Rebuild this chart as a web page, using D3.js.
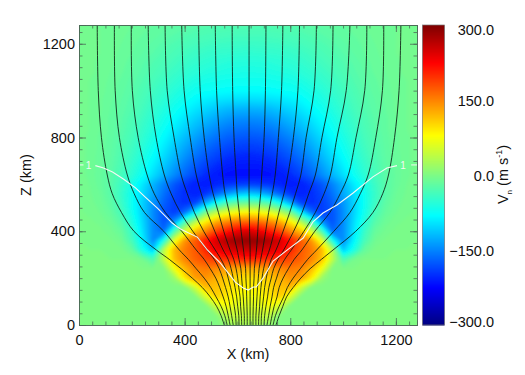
<!DOCTYPE html>
<html>
<head>
<meta charset="utf-8">
<script src="https://cdn.jsdelivr.net/npm/d3@7"></script>
<style>
  html, body { margin: 0; padding: 0; background: #fff; }
  svg { display: block; }
  text { font-family: "Liberation Sans", Arial, sans-serif; fill: #111; }
</style>
</head>
<body>
<svg id="chart" width="525" height="375"></svg>
<script>
// grid nodes, km
const gridX = d3.range(0, 1281, 40);
const gridZ = d3.range(1280, -1, -40);

// V_n in m/s, one row per gridZ, one value per gridX
const vnRows = [
  [-6,-7,-8,-9,-10,-12,-14,-16,-18,-20,-22,-24,-26,-27,-28,-28,-28,-28,-28,-27,-26,-24,-22,-20,-18,-16,-14,-12,-10,-9,-8,-7,-6],
  [-6,-7,-8,-9,-11,-13,-16,-18,-21,-24,-27,-30,-32,-33,-34,-35,-35,-35,-34,-33,-32,-30,-27,-24,-21,-18,-16,-13,-11,-9,-8,-7,-6],
  [-6,-7,-8,-10,-12,-15,-18,-21,-25,-29,-33,-36,-38,-40,-41,-42,-42,-42,-41,-40,-38,-36,-33,-29,-25,-21,-18,-15,-12,-10,-8,-7,-6],
  [-6,-7,-8,-10,-13,-16,-20,-24,-29,-33,-38,-42,-45,-47,-48,-49,-50,-49,-48,-47,-45,-42,-38,-33,-29,-24,-20,-16,-13,-10,-8,-7,-6],
  [-6,-7,-9,-11,-14,-18,-23,-28,-33,-38,-43,-48,-51,-54,-56,-57,-58,-57,-56,-54,-51,-48,-43,-38,-33,-28,-23,-18,-14,-11,-9,-7,-6],
  [-6,-7,-9,-12,-15,-20,-25,-31,-37,-43,-49,-54,-58,-60,-62,-63,-64,-63,-62,-60,-58,-54,-49,-43,-37,-31,-25,-20,-15,-12,-9,-7,-6],
  [-6,-8,-10,-13,-17,-22,-28,-35,-42,-49,-56,-62,-66,-68,-70,-71,-71,-71,-70,-68,-66,-62,-56,-49,-42,-35,-28,-22,-17,-13,-10,-8,-6],
  [-6,-8,-10,-14,-18,-24,-31,-39,-47,-56,-64,-71,-75,-77,-79,-80,-80,-80,-79,-77,-75,-71,-64,-56,-47,-39,-31,-24,-18,-14,-10,-8,-6],
  [-6,-8,-11,-15,-20,-26,-34,-43,-53,-63,-72,-82,-89,-94,-97,-99,-100,-99,-97,-94,-89,-82,-72,-63,-53,-43,-34,-26,-20,-15,-11,-8,-6],
  [-6,-8,-11,-16,-21,-28,-37,-48,-59,-71,-83,-94,-104,-113,-120,-124,-125,-124,-120,-113,-104,-94,-83,-71,-59,-48,-37,-28,-21,-16,-11,-8,-6],
  [-6,-8,-12,-17,-23,-31,-41,-53,-66,-80,-94,-107,-119,-130,-138,-144,-145,-144,-138,-130,-119,-107,-94,-80,-66,-53,-41,-31,-23,-17,-12,-8,-6],
  [-6,-8,-12,-17,-24,-33,-45,-58,-73,-89,-105,-120,-134,-146,-155,-160,-162,-160,-155,-146,-134,-120,-105,-89,-73,-58,-45,-33,-24,-17,-12,-8,-6],
  [-6,-9,-13,-18,-26,-36,-49,-64,-81,-99,-117,-134,-149,-161,-170,-175,-177,-175,-170,-161,-149,-134,-117,-99,-81,-64,-49,-36,-26,-18,-13,-9,-6],
  [-6,-9,-13,-19,-28,-39,-54,-71,-90,-110,-129,-147,-163,-175,-184,-189,-191,-189,-184,-175,-163,-147,-129,-110,-90,-71,-54,-39,-28,-19,-13,-9,-6],
  [-6,-9,-14,-20,-30,-43,-59,-78,-99,-120,-141,-160,-176,-188,-197,-202,-204,-202,-197,-188,-176,-160,-141,-120,-99,-78,-59,-43,-30,-20,-14,-9,-6],
  [-6,-9,-14,-21,-33,-48,-66,-88,-110,-133,-155,-174,-190,-201,-209,-213,-214,-213,-209,-201,-190,-174,-155,-133,-110,-88,-66,-48,-33,-21,-14,-9,-6],
  [-6,-9,-15,-23,-36,-53,-74,-98,-122,-146,-168,-187,-202,-212,-218,-220,-220,-220,-218,-212,-202,-187,-168,-146,-122,-98,-74,-53,-36,-23,-15,-9,-6],
  [-5,-8,-14,-24,-42,-65,-92,-122,-150,-175,-195,-208,-212,-205,-197,-192,-190,-192,-197,-205,-212,-208,-195,-175,-150,-122,-92,-65,-42,-24,-14,-8,-5],
  [-5,-7,-12,-24,-45,-70,-100,-130,-160,-185,-200,-208,-195,-170,-140,-118,-110,-118,-140,-170,-195,-208,-200,-185,-160,-130,-100,-70,-45,-24,-12,-7,-5],
  [-4,-6,-10,-20,-42,-72,-105,-140,-170,-190,-200,-185,-125,-70,-30,-14,-10,-14,-30,-70,-125,-185,-200,-190,-170,-140,-105,-72,-42,-20,-10,-6,-4],
  [-3,-5,-8,-16,-35,-68,-105,-145,-178,-190,-160,-85,0,40,65,78,85,78,65,40,0,-85,-160,-190,-178,-145,-105,-68,-35,-16,-8,-5,-3],
  [-2,-3,-5,-10,-25,-58,-100,-145,-178,-140,-35,35,90,130,150,165,170,165,150,130,90,35,-35,-140,-178,-145,-100,-58,-25,-10,-5,-3,-2],
  [-1,-2,-3,-6,-15,-45,-95,-145,-165,-35,55,115,150,190,215,238,250,238,215,190,150,115,55,-35,-165,-145,-95,-45,-15,-6,-3,-2,-1],
  [0,-1,-1,-3,-8,-35,-85,-145,-65,65,140,175,215,250,272,285,288,285,272,250,215,175,140,65,-65,-145,-85,-35,-8,-3,-1,-1,0],
  [0,0,0,-1,-3,-15,-65,-110,35,120,155,175,205,235,245,252,255,252,245,235,205,175,155,120,35,-110,-65,-15,-3,-1,0,0,0],
  [0,0,0,0,0,0,-5,-30,40,115,150,170,185,195,200,203,205,203,200,195,185,170,150,115,40,-30,-5,0,0,0,0,0,0],
  [0,0,0,0,0,0,0,0,0,70,120,150,155,145,135,128,125,128,135,145,155,150,120,70,0,0,0,0,0,0,0,0,0],
  [0,0,0,0,0,0,0,0,0,15,90,135,140,125,108,98,95,98,108,125,140,135,90,15,0,0,0,0,0,0,0,0,0],
  [0,0,0,0,0,0,0,0,0,0,0,50,120,115,100,88,85,88,100,115,120,50,0,0,0,0,0,0,0,0,0,0,0],
  [0,0,0,0,0,0,0,0,0,0,0,0,55,105,90,75,70,75,90,105,55,0,0,0,0,0,0,0,0,0,0,0,0],
  [0,0,0,0,0,0,0,0,0,0,0,0,0,50,75,60,55,60,75,50,0,0,0,0,0,0,0,0,0,0,0,0,0],
  [0,0,0,0,0,0,0,0,0,0,0,0,0,5,40,45,40,45,40,5,0,0,0,0,0,0,0,0,0,0,0,0,0],
  [0,0,0,0,0,0,0,0,0,0,0,0,0,0,15,25,25,25,15,0,0,0,0,0,0,0,0,0,0,0,0,0,0]
];

// field lines: x (km) of each line at these heights (km)
const lineZ = [0,40,80,120,160,200,240,280,320,400,480,560,640,800,1000,1280];
const fieldLines = [
  [550,538,521,497,467,429,387,342,293,208,161,126,107,85,73,69],
  [561,552,538,519,499,474,444,414,380,321,248,209,183,153,137,134],
  [572,565,557,546,533,518,497,474,444,389,327,285,258,224,202,198],
  [584,578,572,565,555,544,531,512,485,431,384,349,323,292,270,262],
  [595,593,588,582,574,565,555,538,516,472,437,410,387,360,334,326],
  [606,605,601,597,591,584,576,565,546,514,486,463,444,421,398,389],
  [616,615,612,610,605,601,595,586,572,548,528,508,493,474,459,453],
  [626,626,624,622,619,616,613,606,599,582,569,553,544,532,521,516],
  [637,637,636,635,634,632,631,627,623,614,607,599,595,587,582,580],
  [648,648,648,648,648,648,648,648,648,646,645,644,644,644,644,644],
  [659,659,660,661,661,663,664,668,672,677,681,688,692,701,706,708],
  [670,670,672,674,676,679,682,688,695,707,718,732,743,755,767,772],
  [680,681,684,686,689,693,699,708,721,740,757,776,791,812,829,835],
  [690,691,695,699,703,709,717,728,746,773,798,820,840,860,890,899],
  [701,703,708,714,719,728,737,754,775,813,845,870,895,920,953,962],
  [712,718,724,731,737,748,760,779,804,852,895,928,952,977,1012,1026],
  [724,731,739,750,758,773,793,815,844,893,950,989,1020,1049,1082,1090],
  [735,744,758,775,789,811,838,866,900,965,1026,1065,1095,1124,1149,1154],
  [746,758,772,786,811,840,875,918,962,1048,1113,1150,1172,1195,1212,1219]
];

// white "1" contour
const whiteX = [62,93,127,168,214,251,297,353,384,448,486,535,592,622,641,660,671,697,735,799,849,886,924,977,1038,1113,1166,1204];
const whiteZ = [680,670,653,623,585,546,499,435,410,375,320,265,183,158,149,162,162,200,273,329,371,440,478,512,563,632,670,680];
const whiteDashes = [[0,17],[1258,1280]];
const whiteDashZ = 683;
const whiteLabels = [36,1227];

const xTicks = [0,400,800,1200];
const zTicks = [0,400,800,1200];
const minorTicks = d3.range(0,1281,50);
const barTicks = [300,150,0,-150,-300];

const jetValues = [-300,-225,-80,0,80,225,300];
const jetColors = ["#00007f","#0000ff","#00ffff","#7dfb86","#ffff00","#ff0000","#7f0000"];

const margin = { left: 79, right: 108, top: 25, bottom: 50 };
const W = 525, H = 375;
const svg = d3.select("#chart");

const x = d3.scaleLinear().domain([0,1280]).range([margin.left, W - margin.right]);
const z = d3.scaleLinear().domain([0,1280]).range([H - margin.bottom, margin.top]);
const color = d3.scaleLinear().domain(jetValues).range(jetColors).clamp(true);

const defs = svg.append("defs");
defs.append("clipPath").attr("id", "plotClip").append("rect")
  .attr("x", margin.left).attr("y", margin.top)
  .attr("width", x(1280) - x(0)).attr("height", z(0) - z(1280));
defs.append("filter").attr("id", "soft")
  .attr("x", "-5%").attr("y", "-5%").attr("width", "110%").attr("height", "110%")
  .append("feGaussianBlur").attr("stdDeviation", 1.6);

// ---------- filled field ----------
const stepX = gridX[1] - gridX[0];
const stepZ = gridZ[0] - gridZ[1];
const toPlot = d3.geoTransform({
  point(cx, cy) {
    // d3.contours puts node i at i + 0.5
    this.stream.point(x(gridX[0] + (cx - 0.5) * stepX), z(gridZ[0] - (cy - 0.5) * stepZ));
  }
});
const path = d3.geoPath(toPlot);
const thresholds = d3.range(-300, 300, 4);
const contours = d3.contours()
  .size([gridX.length, gridZ.length])
  .thresholds(thresholds)(vnRows.flat());

const plot = svg.append("g").attr("clip-path", "url(#plotClip)");
const heat = plot.append("g").attr("filter", "url(#soft)");
heat.append("rect")
  .attr("x", x(0) - 20).attr("y", z(1280) - 20)
  .attr("width", x(1280) - x(0) + 40).attr("height", z(0) - z(1280) + 40)
  .attr("fill", color(-300));
heat.selectAll("path").data(contours).join("path")
  .attr("d", path)
  .attr("fill", d => color(d.value + 2));

// ---------- field lines ----------
const fieldLine = d3.line()
  .x(d => x(d[0])).y(d => z(d[1]))
  .curve(d3.curveCatmullRom.alpha(0.5));
plot.append("g").selectAll("path").data(fieldLines).join("path")
  .attr("d", xs => fieldLine(xs.map((v, i) => [v, lineZ[i]])))
  .attr("fill", "none").attr("stroke", "#0c1a12").attr("stroke-width", 0.85);

// ---------- white contour ----------
const whiteLine = d3.line().x(d => x(d[0])).y(d => z(d[1]));
plot.append("path")
  .attr("d", whiteLine(whiteX.map((v, i) => [v, whiteZ[i]])))
  .attr("fill", "none").attr("stroke", "#f4f8f4").attr("stroke-width", 1.1);
plot.append("g").selectAll("path").data(whiteDashes).join("path")
  .attr("d", d => whiteLine(d.map(v => [v, whiteDashZ])))
  .attr("stroke", "#f4f8f4").attr("stroke-width", 1);
svg.append("g").selectAll("text").data(whiteLabels).join("text")
  .attr("x", d => x(d)).attr("y", z(whiteDashZ) + 4)
  .attr("text-anchor", "middle").attr("font-size", 10)
  .style("fill", "#f4f8f4").text("1");

// ---------- axes ----------
function styleAxis(g) {
  g.selectAll("path,line").attr("stroke", "#4a6a55").attr("stroke-width", 0.8);
  g.selectAll("text").attr("font-size", 14.5).attr("fill", "#111");
}
const bottomY = z(0), topY = z(1280), leftX = x(0), rightX = x(1280);

svg.append("g").attr("transform", `translate(0,${bottomY})`)
  .call(d3.axisBottom(x).tickValues(minorTicks).tickSize(-3.5).tickFormat(""))
  .call(styleAxis);
svg.append("g").attr("transform", `translate(0,${bottomY})`)
  .call(d3.axisBottom(x).tickValues(xTicks).tickSize(-7).tickPadding(10).tickSizeOuter(0).tickFormat(d3.format("d")))
  .call(styleAxis)
  .selectAll("text").attr("dy", "0.71em");
svg.append("g").attr("transform", `translate(0,${topY})`)
  .call(d3.axisTop(x).tickValues(minorTicks).tickSize(-3.5).tickFormat(""))
  .call(styleAxis);
svg.append("g").attr("transform", `translate(0,${topY})`)
  .call(d3.axisTop(x).tickValues(xTicks).tickSize(-7).tickFormat(""))
  .call(styleAxis);

svg.append("g").attr("transform", `translate(${leftX},0)`)
  .call(d3.axisLeft(z).tickValues(minorTicks).tickSize(-3.5).tickFormat(""))
  .call(styleAxis);
svg.append("g").attr("transform", `translate(${leftX},0)`)
  .call(d3.axisLeft(z).tickValues(zTicks).tickSize(-7).tickPadding(4).tickFormat(d3.format("d")))
  .call(styleAxis);
svg.append("g").attr("transform", `translate(${rightX},0)`)
  .call(d3.axisRight(z).tickValues(minorTicks).tickSize(-3.5).tickFormat(""))
  .call(styleAxis);
svg.append("g").attr("transform", `translate(${rightX},0)`)
  .call(d3.axisRight(z).tickValues(zTicks).tickSize(-7).tickFormat(""))
  .call(styleAxis);

svg.append("text").attr("x", (leftX + rightX) / 2).attr("y", 359)
  .attr("text-anchor", "middle").attr("font-size", 14.5).text("X (km)");
svg.append("text").attr("transform", `translate(31,${(topY + bottomY) / 2}) rotate(-90)`)
  .attr("text-anchor", "middle").attr("font-size", 14.5).text("Z (km)");

// ---------- colour bar ----------
const barLeft = 422.5, barRight = 444.5;
const barY = d3.scaleLinear().domain([-300,300]).range([bottomY, topY]);
const bar = svg.append("g");
bar.selectAll("rect").data(d3.range(-300, 300, 2)).join("rect")
  .attr("x", barLeft).attr("width", barRight - barLeft)
  .attr("y", d => barY(d + 2)).attr("height", barY(0) - barY(2) + 0.5)
  .attr("fill", d => color(d + 1));
bar.append("rect")
  .attr("x", barLeft).attr("y", topY)
  .attr("width", barRight - barLeft).attr("height", bottomY - topY)
  .attr("fill", "none").attr("stroke", "#777").attr("stroke-width", 0.7);

const barAxis = svg.append("g").attr("transform", `translate(${barRight},0)`)
  .call(d3.axisRight(barY).tickValues(barTicks).tickSize(0).tickPadding(49.5).tickFormat(d3.format(".1f")));
barAxis.select("path").remove();
barAxis.selectAll("text")
  .attr("font-size", 14.5).attr("fill", "#111").attr("text-anchor", "end")
  .attr("dy", d => d === 300 ? "0.62em" : d === -300 ? "0.08em" : "0.38em");

const barLabel = svg.append("text")
  .attr("transform", `translate(507.5,${(topY + bottomY) / 2 - 0.5}) rotate(-90)`)
  .attr("text-anchor", "middle").attr("font-size", 14.5);
barLabel.append("tspan").text("V");
barLabel.append("tspan").attr("font-size", 8).attr("dy", 4).text("n");
barLabel.append("tspan").attr("dy", -4).text(" (m s");
barLabel.append("tspan").attr("font-size", 9).attr("dy", -6).text("-1");
barLabel.append("tspan").attr("dy", 6).text(")");
</script>
</body>
</html>
